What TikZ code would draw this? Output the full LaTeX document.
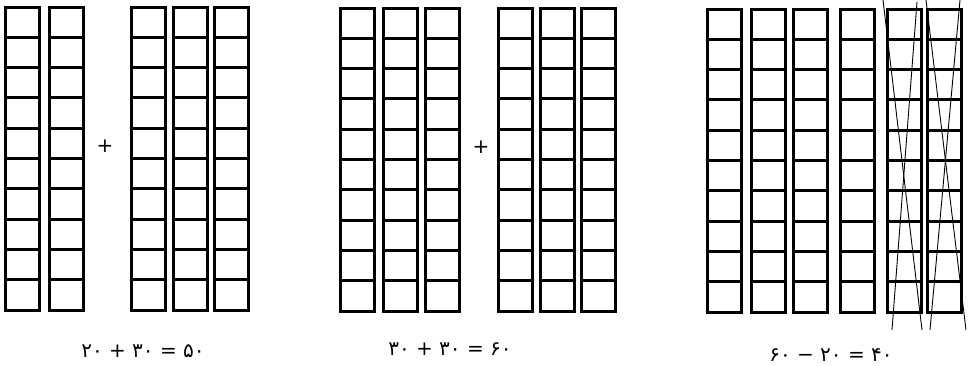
\documentclass[tikz,border=0pt]{standalone}
\usepackage{fontspec}
\usepackage{tikz}
\TeXXeTstate=1
\newfontfamily\arabicfont[Script=Arabic]{DejaVu Sans}

\tikzset{
  rodline/.style={line width=3pt},
  crossline/.style={line width=0.9pt},
  sumlabel/.style={font=\arabicfont\fontsize{20}{22}\selectfont, inner sep=0pt},
  plussign/.style={font=\arabicfont\fontsize{20}{20}\selectfont, inner sep=0pt},
}
% one rod of ten squares: left edge, top edge
\newcommand{\tenrod}[2]{%
  \draw[rodline] (#1,#2) rectangle ++(34,303);
  \foreach \k in {1,...,9}
    \draw[rodline] (#1,#2+30.3*\k) -- ++(34,0);
}

\begin{document}
\begin{tikzpicture}[x=1pt,y=-1pt]
  \useasboundingbox (0,0) rectangle (970,365);

  % 20 + 30 = 50
  \foreach \xx in {5,49,131,173,214} {\tenrod{\xx}{7}}
  \node[plussign] (plusA) at (105,146) {+};
  \node[sumlabel] (sumA) at (143,351) {\beginR\beginL ۲۰ + ۳۰ = ۵۰\endL\endR};

  % 30 + 30 = 60
  \foreach \xx in {340,383,425,498,540,581} {\tenrod{\xx}{8}}
  \node[plussign] (plusB) at (481,147) {+};
  \node[sumlabel] (sumB) at (450,349) {\beginR\beginL ۳۰ + ۳۰ = ۶۰\endL\endR};

  % 60 - 20 = 40
  \foreach \xx in {707,751,793,840,887,927} {\tenrod{\xx}{9}}
  \draw[crossline] (883,0) -- (922,330);
  \draw[crossline] (917,2) -- (892,330);
  \draw[crossline] (926,0) -- (966,330);
  \draw[crossline] (960,0) -- (930,330);
  \node[sumlabel] (sumC) at (831,355) {\beginR\beginL ۶۰ − ۲۰ = ۴۰\endL\endR};
\end{tikzpicture}
\end{document}
